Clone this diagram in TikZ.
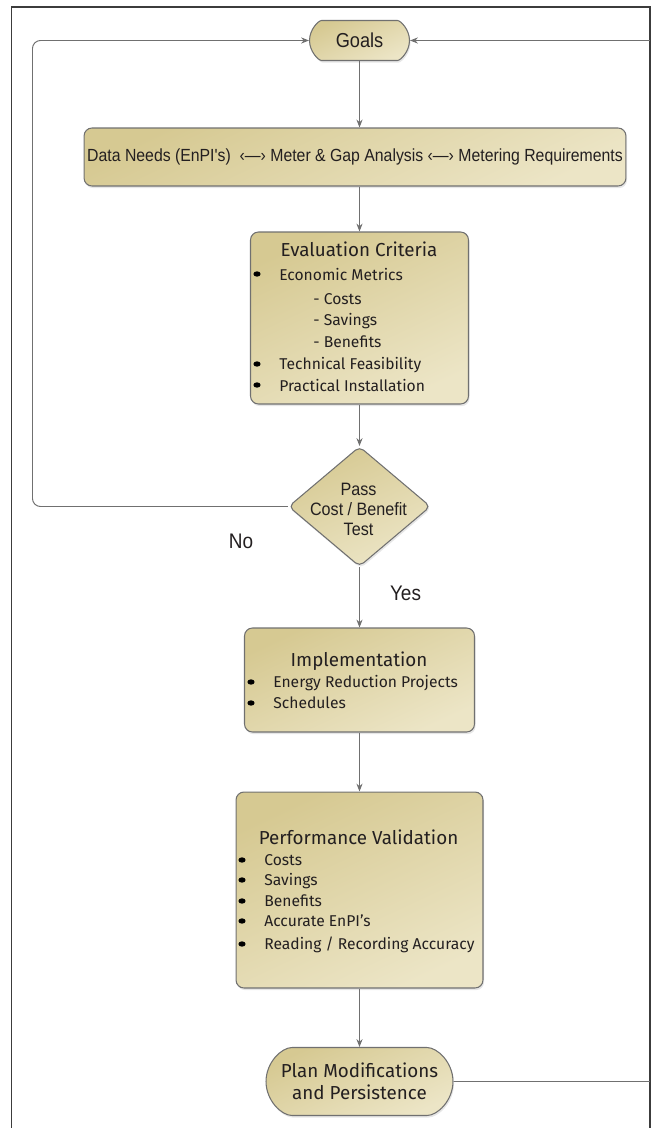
\documentclass[tikz,border=0pt]{standalone}
\usepackage{fontspec}
\setmainfont{Fira Sans}
\newfontfamily\narrowfont{Liberation Sans}[FakeStretch=0.9]
\usetikzlibrary{shapes.geometric,shapes.misc,shadows,arrows.meta}

\definecolor{boxdark}{HTML}{D6C992}
\definecolor{boxlight}{HTML}{ECE5C6}
\definecolor{linegray}{HTML}{707070}
\definecolor{framegray}{HTML}{3C3C3C}
\definecolor{inkdark}{HTML}{231F20}

\begin{document}
\begin{tikzpicture}[x=0.02cm,y=-0.02cm]
\tikzstyle{every node}+=[inner sep=0pt, text=inkdark]
\tikzstyle{box}=[draw=linegray, line width=0.6pt, rounded corners=4.5pt,
  top color=boxdark, bottom color=boxlight, shading angle=25,
  drop shadow={opacity=0.2, shadow xshift=0.6pt, shadow yshift=-1.2pt}]
\tikzstyle{terminal}=[box, rounded rectangle]
\tikzstyle{decision}=[box, diamond, rounded corners=3pt]
\tikzstyle{flow}=[draw=linegray, line width=0.55pt, -{Stealth[length=4.5pt,width=3.5pt]}]
\tikzstyle{loop}=[draw=linegray, line width=0.55pt, rounded corners=4.5pt]
\tikzstyle{title}=[anchor=base, font=\fontsize{10.7}{12}\selectfont]
\tikzstyle{item}=[anchor=base west, font=\fontsize{8.9}{11}\selectfont]
\tikzstyle{narrow}=[font=\narrowfont\fontsize{10}{12}\selectfont]
\newcommand{\dotmark}[2]{\fill[black] (#1,#2) ellipse (3.6 and 2.7);}
\useasboundingbox (0,0) rectangle (651,1128);
% frame
\draw[framegray, line width=0.9pt] (11.5,1128) -- (11.5,7) -- (650,7) -- (650,1128);
% goals
\node[terminal, minimum width=2.0cm, minimum height=0.8cm,
  font=\narrowfont\fontsize{11.5}{13}\selectfont] (goals) at (359.5,40.5) {Goals};
% data needs
\node[box, minimum width=10.84cm, minimum height=1.16cm, narrow] (data) at (355,157)
  {Data Needs (EnPI's) \ ‹—› Meter \& Gap Analysis ‹—› Metering Requirements};
% evaluation criteria
\node[box, minimum width=4.36cm, minimum height=3.44cm] (eval) at (359.5,318) {};
\node[title] (evaltitle) at (359,256.5) {Evaluation Criteria};
\node[item] (econ) at (279,280) {Economic Metrics};
\node[item] (ecosts) at (313,304) {- Costs};
\node[item] (esave) at (313,325.5) {- Savings};
\node[item] (ebenef) at (313,347) {- Benefits};
\node[item] (tech) at (279,369) {Technical Feasibility};
\node[item] (prac) at (279,391) {Practical Installation};
\dotmark{257}{274} \dotmark{257}{364} \dotmark{257}{385}
% decision
\node[decision, minimum width=2.84cm, minimum height=2.4cm] (test) at (359.5,506.5) {};
\node[align=center, font=\narrowfont\fontsize{10.2}{11.4}\selectfont] (testtext) at (358.5,509) {Pass\\Cost / Benefit\\Test};
\node[anchor=base, font=\narrowfont\fontsize{12}{14}\selectfont] (no) at (241,548) {No};
\node[anchor=base, font=\narrowfont\fontsize{12}{14}\selectfont] (yes) at (405.5,600) {Yes};
% implementation
\node[box, minimum width=4.6cm, minimum height=2.08cm] (impl) at (359.5,680) {};
\node[title] (impltitle) at (359,666) {Implementation};
\node[item] (energy) at (273,687) {Energy Reduction Projects};
\node[item] (sched) at (273,708) {Schedules};
\dotmark{251}{682} \dotmark{251}{703}
% performance validation
\node[box, minimum width=4.94cm, minimum height=3.92cm] (perf) at (359.5,890) {};
\node[title] (perftitle) at (358.5,844) {Performance Validation};
\node[item] (pcosts) at (264,865) {Costs};
\node[item] (psave) at (264,885) {Savings};
\node[item] (pbenef) at (264,906) {Benefits};
\node[item] (paccur) at (264,926) {Accurate EnPI's};
\node[item] (pread) at (264,949) {Reading / Recording Accuracy};
\dotmark{242}{860} \dotmark{242}{880} \dotmark{242}{901} \dotmark{242}{921} \dotmark{242}{944}
% plan modifications
\node[terminal, minimum width=3.74cm, minimum height=1.36cm, align=center,
  font=\fontsize{10.7}{12.8}\selectfont] (plan) at (359.5,1081.5) {Plan Modifications\\and Persistence};
% connectors
\coordinate (rightcorner) at (650,1081.5);
\coordinate (rightbend) at (650,40.5);
\coordinate (leftcorner) at (32.5,506.5);
\coordinate (leftbend) at (32.5,40.5);
\draw[flow] (goals.south) -- (goals.south |- data.north);
\draw[flow] (data.south -| eval.north) -- (eval.north);
\draw[flow] (eval.south) -- (test.north);
\draw[flow] (test.south) -- (test.south |- impl.north);
\draw[flow] (impl.south) -- (impl.south |- perf.north);
\draw[flow] (perf.south -| plan.north) -- (plan.north);
\draw[loop, -{Stealth[length=4.5pt,width=3.5pt]}] (test.west) -- (leftcorner) -- (leftbend) -- (goals.west);
\draw[loop] (plan.east) -- (rightcorner);
\draw[flow] (rightbend) -- (goals.east);
\end{tikzpicture}
\end{document}
